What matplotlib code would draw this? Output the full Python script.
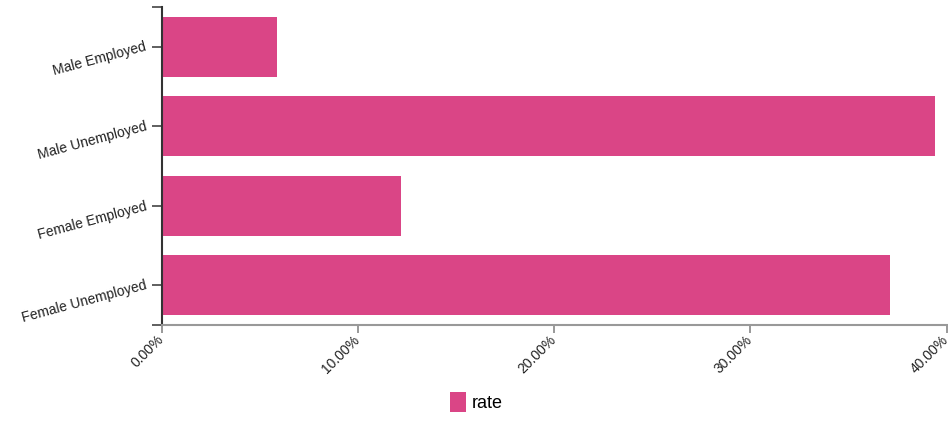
import matplotlib
matplotlib.use("Agg")
import matplotlib.pyplot as plt
from matplotlib.ticker import FuncFormatter

categories = ["Male Employed", "Male Unemployed", "Female Employed", "Female Unemployed"]
rate = [5.9, 39.4, 12.2, 37.1]
x_ticks = [0, 10, 20, 30, 40]
series_name = "rate"

plt.rcParams['font.family'] = ['Liberation Sans', 'DejaVu Sans']
color = "#DA4586"

fig = plt.figure(figsize=(9.48, 4.23), dpi=100)
W, H = 948, 423
ax = fig.add_axes([161.5 / W, (H - 325) / H, (946.5 - 161.5) / W, (325 - 7) / H])

pos = list(range(len(categories)))
ax.barh(pos, rate, height=0.755, color=color, label=series_name)
ax.set_ylim(len(categories) - 0.5, -0.5)
ax.set_xlim(0, 40)
ax.set_yticks(pos)
ax.set_yticks([-0.5, len(categories) - 0.5], minor=True)
ax.set_yticklabels(categories)
for lbl in ax.get_yticklabels():
    lbl.set_rotation(15)
    lbl.set_rotation_mode("anchor")
    lbl.set_ha("right")
    lbl.set_va("center")
    lbl.set_fontsize(10)
    lbl.set_color("#222222")
ax.set_xticks(x_ticks)
ax.xaxis.set_major_formatter(FuncFormatter(lambda v, p: f"{v:.2f}%"))
for lbl in ax.get_xticklabels():
    lbl.set_rotation(45)
    lbl.set_ha("right")
    lbl.set_va("center")
    lbl.set_fontsize(10)
    lbl.set_color("#222222")
    lbl.set_rotation_mode("anchor")

for s in ["top", "right"]:
    ax.spines[s].set_visible(False)
ax.spines["left"].set_color("#333333")
ax.spines["left"].set_linewidth(1.5)
ax.spines["bottom"].set_color("#999999")
ax.spines["bottom"].set_linewidth(1.5)
ax.tick_params(axis="y", which="both", length=7, width=1.2, color="#444444", pad=4)
ax.tick_params(axis="x", length=6, width=1.2, color="#888888", pad=3)

leg = fig.legend(loc="center", bbox_to_anchor=(476 / W, (H - 402) / H), frameon=False,
                 fontsize=13, handlelength=0.9, handleheight=1.3, handletextpad=0.3)

fig.savefig("out.png", dpi=100)
